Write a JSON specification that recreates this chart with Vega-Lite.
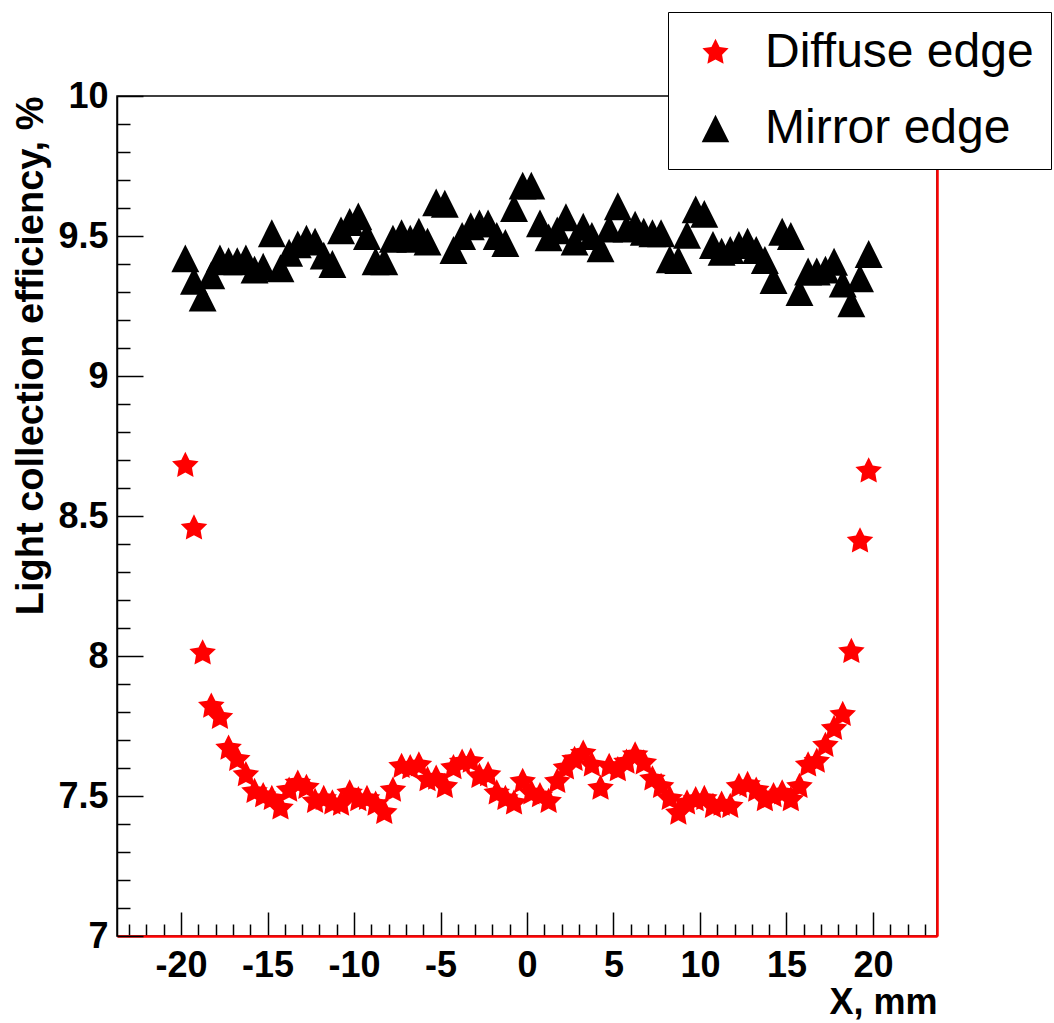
{
  "$schema": "https://vega.github.io/schema/vega-lite/v6.json",
  "width": 820,
  "height": 840,
  "autosize": {"type": "none"},
  "padding": {"left": 117, "top": 96, "right": 117, "bottom": 87},
  "background": "white",
  "config": {"view": {"stroke": "#000000", "strokeWidth": 1.5}, "font": "Liberation Sans"},
  "datasets": {
    "pts": [
      {"x": -19.75, "y": 9.42, "series": "Mirror edge"},
      {"x": -19.25, "y": 9.34, "series": "Mirror edge"},
      {"x": -18.75, "y": 9.28, "series": "Mirror edge"},
      {"x": -18.25, "y": 9.36, "series": "Mirror edge"},
      {"x": -17.75, "y": 9.42, "series": "Mirror edge"},
      {"x": -17.25, "y": 9.41, "series": "Mirror edge"},
      {"x": -16.75, "y": 9.41, "series": "Mirror edge"},
      {"x": -16.25, "y": 9.42, "series": "Mirror edge"},
      {"x": -15.75, "y": 9.38, "series": "Mirror edge"},
      {"x": -15.25, "y": 9.39, "series": "Mirror edge"},
      {"x": -14.75, "y": 9.51, "series": "Mirror edge"},
      {"x": -14.25, "y": 9.385, "series": "Mirror edge"},
      {"x": -13.75, "y": 9.44, "series": "Mirror edge"},
      {"x": -13.25, "y": 9.47, "series": "Mirror edge"},
      {"x": -12.75, "y": 9.49, "series": "Mirror edge"},
      {"x": -12.25, "y": 9.48, "series": "Mirror edge"},
      {"x": -11.75, "y": 9.43, "series": "Mirror edge"},
      {"x": -11.25, "y": 9.4, "series": "Mirror edge"},
      {"x": -10.75, "y": 9.52, "series": "Mirror edge"},
      {"x": -10.25, "y": 9.55, "series": "Mirror edge"},
      {"x": -9.75, "y": 9.57, "series": "Mirror edge"},
      {"x": -9.25, "y": 9.5, "series": "Mirror edge"},
      {"x": -8.75, "y": 9.41, "series": "Mirror edge"},
      {"x": -8.25, "y": 9.41, "series": "Mirror edge"},
      {"x": -7.75, "y": 9.49, "series": "Mirror edge"},
      {"x": -7.25, "y": 9.51, "series": "Mirror edge"},
      {"x": -6.75, "y": 9.49, "series": "Mirror edge"},
      {"x": -6.25, "y": 9.515, "series": "Mirror edge"},
      {"x": -5.75, "y": 9.48, "series": "Mirror edge"},
      {"x": -5.25, "y": 9.62, "series": "Mirror edge"},
      {"x": -4.75, "y": 9.615, "series": "Mirror edge"},
      {"x": -4.25, "y": 9.45, "series": "Mirror edge"},
      {"x": -3.75, "y": 9.5, "series": "Mirror edge"},
      {"x": -3.25, "y": 9.535, "series": "Mirror edge"},
      {"x": -2.75, "y": 9.545, "series": "Mirror edge"},
      {"x": -2.25, "y": 9.545, "series": "Mirror edge"},
      {"x": -1.75, "y": 9.5, "series": "Mirror edge"},
      {"x": -1.25, "y": 9.475, "series": "Mirror edge"},
      {"x": -0.75, "y": 9.6, "series": "Mirror edge"},
      {"x": -0.25, "y": 9.68, "series": "Mirror edge"},
      {"x": 0.25, "y": 9.68, "series": "Mirror edge"},
      {"x": 0.75, "y": 9.545, "series": "Mirror edge"},
      {"x": 1.25, "y": 9.495, "series": "Mirror edge"},
      {"x": 1.75, "y": 9.52, "series": "Mirror edge"},
      {"x": 2.25, "y": 9.567, "series": "Mirror edge"},
      {"x": 2.75, "y": 9.48, "series": "Mirror edge"},
      {"x": 3.25, "y": 9.533, "series": "Mirror edge"},
      {"x": 3.75, "y": 9.5, "series": "Mirror edge"},
      {"x": 4.25, "y": 9.456, "series": "Mirror edge"},
      {"x": 4.75, "y": 9.527, "series": "Mirror edge"},
      {"x": 5.25, "y": 9.606, "series": "Mirror edge"},
      {"x": 5.75, "y": 9.527, "series": "Mirror edge"},
      {"x": 6.25, "y": 9.54, "series": "Mirror edge"},
      {"x": 6.75, "y": 9.515, "series": "Mirror edge"},
      {"x": 7.25, "y": 9.51, "series": "Mirror edge"},
      {"x": 7.75, "y": 9.51, "series": "Mirror edge"},
      {"x": 8.25, "y": 9.417, "series": "Mirror edge"},
      {"x": 8.75, "y": 9.414, "series": "Mirror edge"},
      {"x": 9.25, "y": 9.504, "series": "Mirror edge"},
      {"x": 9.75, "y": 9.595, "series": "Mirror edge"},
      {"x": 10.25, "y": 9.579, "series": "Mirror edge"},
      {"x": 10.75, "y": 9.468, "series": "Mirror edge"},
      {"x": 11.25, "y": 9.444, "series": "Mirror edge"},
      {"x": 11.75, "y": 9.45, "series": "Mirror edge"},
      {"x": 12.25, "y": 9.468, "series": "Mirror edge"},
      {"x": 12.75, "y": 9.48, "series": "Mirror edge"},
      {"x": 13.25, "y": 9.45, "series": "Mirror edge"},
      {"x": 13.75, "y": 9.414, "series": "Mirror edge"},
      {"x": 14.25, "y": 9.343, "series": "Mirror edge"},
      {"x": 14.75, "y": 9.515, "series": "Mirror edge"},
      {"x": 15.25, "y": 9.5, "series": "Mirror edge"},
      {"x": 15.75, "y": 9.3, "series": "Mirror edge"},
      {"x": 16.25, "y": 9.373, "series": "Mirror edge"},
      {"x": 16.75, "y": 9.373, "series": "Mirror edge"},
      {"x": 17.25, "y": 9.38, "series": "Mirror edge"},
      {"x": 17.75, "y": 9.408, "series": "Mirror edge"},
      {"x": 18.25, "y": 9.33, "series": "Mirror edge"},
      {"x": 18.75, "y": 9.26, "series": "Mirror edge"},
      {"x": 19.25, "y": 9.349, "series": "Mirror edge"},
      {"x": 19.75, "y": 9.436, "series": "Mirror edge"},
      {"x": -19.75, "y": 8.68, "series": "Diffuse edge"},
      {"x": -19.25, "y": 8.456, "series": "Diffuse edge"},
      {"x": -18.75, "y": 8.01, "series": "Diffuse edge"},
      {"x": -18.25, "y": 7.82, "series": "Diffuse edge"},
      {"x": -17.75, "y": 7.78, "series": "Diffuse edge"},
      {"x": -17.25, "y": 7.67, "series": "Diffuse edge"},
      {"x": -16.75, "y": 7.63, "series": "Diffuse edge"},
      {"x": -16.25, "y": 7.575, "series": "Diffuse edge"},
      {"x": -15.75, "y": 7.515, "series": "Diffuse edge"},
      {"x": -15.25, "y": 7.5, "series": "Diffuse edge"},
      {"x": -14.75, "y": 7.49, "series": "Diffuse edge"},
      {"x": -14.25, "y": 7.456, "series": "Diffuse edge"},
      {"x": -13.75, "y": 7.52, "series": "Diffuse edge"},
      {"x": -13.25, "y": 7.545, "series": "Diffuse edge"},
      {"x": -12.75, "y": 7.53, "series": "Diffuse edge"},
      {"x": -12.25, "y": 7.48, "series": "Diffuse edge"},
      {"x": -11.75, "y": 7.49, "series": "Diffuse edge"},
      {"x": -11.25, "y": 7.474, "series": "Diffuse edge"},
      {"x": -10.75, "y": 7.47, "series": "Diffuse edge"},
      {"x": -10.25, "y": 7.51, "series": "Diffuse edge"},
      {"x": -9.75, "y": 7.486, "series": "Diffuse edge"},
      {"x": -9.25, "y": 7.49, "series": "Diffuse edge"},
      {"x": -8.75, "y": 7.47, "series": "Diffuse edge"},
      {"x": -8.25, "y": 7.44, "series": "Diffuse edge"},
      {"x": -7.75, "y": 7.52, "series": "Diffuse edge"},
      {"x": -7.25, "y": 7.605, "series": "Diffuse edge"},
      {"x": -6.75, "y": 7.6, "series": "Diffuse edge"},
      {"x": -6.25, "y": 7.61, "series": "Diffuse edge"},
      {"x": -5.75, "y": 7.557, "series": "Diffuse edge"},
      {"x": -5.25, "y": 7.563, "series": "Diffuse edge"},
      {"x": -4.75, "y": 7.533, "series": "Diffuse edge"},
      {"x": -4.25, "y": 7.6, "series": "Diffuse edge"},
      {"x": -3.75, "y": 7.62, "series": "Diffuse edge"},
      {"x": -3.25, "y": 7.623, "series": "Diffuse edge"},
      {"x": -2.75, "y": 7.569, "series": "Diffuse edge"},
      {"x": -2.25, "y": 7.575, "series": "Diffuse edge"},
      {"x": -1.75, "y": 7.51, "series": "Diffuse edge"},
      {"x": -1.25, "y": 7.49, "series": "Diffuse edge"},
      {"x": -0.75, "y": 7.474, "series": "Diffuse edge"},
      {"x": -0.25, "y": 7.551, "series": "Diffuse edge"},
      {"x": 0.25, "y": 7.51, "series": "Diffuse edge"},
      {"x": 0.75, "y": 7.5, "series": "Diffuse edge"},
      {"x": 1.25, "y": 7.48, "series": "Diffuse edge"},
      {"x": 1.75, "y": 7.551, "series": "Diffuse edge"},
      {"x": 2.25, "y": 7.599, "series": "Diffuse edge"},
      {"x": 2.75, "y": 7.63, "series": "Diffuse edge"},
      {"x": 3.25, "y": 7.652, "series": "Diffuse edge"},
      {"x": 3.75, "y": 7.61, "series": "Diffuse edge"},
      {"x": 4.25, "y": 7.527, "series": "Diffuse edge"},
      {"x": 4.75, "y": 7.605, "series": "Diffuse edge"},
      {"x": 5.25, "y": 7.593, "series": "Diffuse edge"},
      {"x": 5.75, "y": 7.62, "series": "Diffuse edge"},
      {"x": 6.25, "y": 7.646, "series": "Diffuse edge"},
      {"x": 6.75, "y": 7.617, "series": "Diffuse edge"},
      {"x": 7.25, "y": 7.56, "series": "Diffuse edge"},
      {"x": 7.75, "y": 7.533, "series": "Diffuse edge"},
      {"x": 8.25, "y": 7.49, "series": "Diffuse edge"},
      {"x": 8.75, "y": 7.438, "series": "Diffuse edge"},
      {"x": 9.25, "y": 7.474, "series": "Diffuse edge"},
      {"x": 9.75, "y": 7.486, "series": "Diffuse edge"},
      {"x": 10.25, "y": 7.49, "series": "Diffuse edge"},
      {"x": 10.75, "y": 7.462, "series": "Diffuse edge"},
      {"x": 11.25, "y": 7.47, "series": "Diffuse edge"},
      {"x": 11.75, "y": 7.462, "series": "Diffuse edge"},
      {"x": 12.25, "y": 7.533, "series": "Diffuse edge"},
      {"x": 12.75, "y": 7.54, "series": "Diffuse edge"},
      {"x": 13.25, "y": 7.52, "series": "Diffuse edge"},
      {"x": 13.75, "y": 7.486, "series": "Diffuse edge"},
      {"x": 14.25, "y": 7.5, "series": "Diffuse edge"},
      {"x": 14.75, "y": 7.51, "series": "Diffuse edge"},
      {"x": 15.25, "y": 7.486, "series": "Diffuse edge"},
      {"x": 15.75, "y": 7.533, "series": "Diffuse edge"},
      {"x": 16.25, "y": 7.61, "series": "Diffuse edge"},
      {"x": 16.75, "y": 7.623, "series": "Diffuse edge"},
      {"x": 17.25, "y": 7.68, "series": "Diffuse edge"},
      {"x": 17.75, "y": 7.74, "series": "Diffuse edge"},
      {"x": 18.25, "y": 7.79, "series": "Diffuse edge"},
      {"x": 18.75, "y": 8.015, "series": "Diffuse edge"},
      {"x": 19.25, "y": 8.41, "series": "Diffuse edge"},
      {"x": 19.75, "y": 8.66, "series": "Diffuse edge"}
    ]
  },
  "data": {"name": "pts"},
  "layer": [
    {
      "mark": {"type": "point", "filled": true, "size": 780, "opacity": 1, "strokeWidth": 0},
      "encoding": {
        "x": {
          "field": "x", "type": "quantitative",
          "scale": {"domain": [-23.7, 23.7], "nice": false, "zero": false},
          "axis": {
            "values": [-23,-22,-21,-20,-19,-18,-17,-16,-15,-14,-13,-12,-11,-10,-9,-8,-7,-6,-5,-4,-3,-2,-1,0,1,2,3,4,5,6,7,8,9,10,11,12,13,14,15,16,17,18,19,20,21,22,23],
            "labelExpr": "datum.value % 5 == 0 ? '' + datum.value : ''",
            "tickSize": {"condition": {"test": "datum.value % 5 == 0", "value": -24}, "value": -12},
            "tickColor": "#000000", "tickWidth": 1.5,
            "labelPadding": 36,
            "labelFontSize": 36, "labelFontWeight": "bold", "labelColor": "#000000",
            "labelFont": "Liberation Sans",
            "labelFlush": false, "labelOverlap": false, "labelBound": false,
            "domainColor": "#ff0000", "domainWidth": 2.5,
            "grid": false,
            "title": "X, mm", "titleAnchor": "end", "titleFontSize": 36, "titleFontWeight": "bold",
            "titleColor": "#000000", "titleFont": "Liberation Sans", "titlePadding": -10
          }
        },
        "y": {
          "field": "y", "type": "quantitative",
          "scale": {"domain": [7, 10], "nice": false, "zero": false},
          "axis": {
            "values": [7,7.1,7.2,7.3,7.4,7.5,7.6,7.7,7.8,7.9,8,8.1,8.2,8.3,8.4,8.5,8.6,8.7,8.8,8.9,9,9.1,9.2,9.3,9.4,9.5,9.6,9.7,9.8,9.9,10],
            "labelExpr": "abs(round(datum.value * 10)) % 5 == 0 ? format(datum.value, '~g') : ''",
            "tickSize": {"condition": {"test": "abs(round(datum.value * 10)) % 5 == 0", "value": -26}, "value": -13},
            "tickColor": "#000000", "tickWidth": 1.5,
            "labelPadding": 35,
            "labelFontSize": 36, "labelFontWeight": "bold", "labelColor": "#000000",
            "labelFont": "Liberation Sans",
            "labelFlush": false, "labelOverlap": false, "labelBound": false,
            "domainColor": "#000000", "domainWidth": 1.5,
            "grid": false,
            "title": "Light collection efficiency, %", "titleAnchor": "end", "titleFontSize": 38, "titleFontWeight": "bold",
            "titleColor": "#000000", "titleFont": "Liberation Sans", "titlePadding": 7
          }
        },
        "color": {
          "field": "series", "type": "nominal",
          "scale": {"domain": ["Diffuse edge", "Mirror edge"], "range": ["#ff0000", "#000000"]},
          "legend": {
            "title": null, "orient": "none", "legendX": 551, "legendY": -84,
            "padding": 16.5, "strokeColor": "#000000", "fillColor": "#ffffff",
            "labelFontSize": 48, "labelFont": "Liberation Sans", "labelColor": "#000000", "labelLimit": 500,
            "symbolSize": 760, "symbolOffset": 7, "labelOffset": 25.5, "rowPadding": 28,
            "symbolStrokeWidth": 0
          }
        },
        "shape": {
          "field": "series", "type": "nominal",
          "scale": {"domain": ["Diffuse edge", "Mirror edge"], "range": ["M0,-1L0.294,-0.405L0.951,-0.309L0.476,0.155L0.588,0.809L0,0.5L-0.588,0.809L-0.476,0.155L-0.951,-0.309L-0.294,-0.405Z", "M0,-1L1,1L-1,1Z"]},
          "legend": {
            "title": null, "orient": "none", "legendX": 551, "legendY": -84,
            "padding": 16.5, "strokeColor": "#000000", "fillColor": "#ffffff",
            "labelFontSize": 48, "labelFont": "Liberation Sans", "labelColor": "#000000", "labelLimit": 500,
            "symbolSize": 760, "symbolOffset": 7, "labelOffset": 25.5, "rowPadding": 28,
            "symbolStrokeWidth": 0
          }
        }
      }
    },
    {
      "mark": {"type": "point", "opacity": 0},
      "encoding": {
        "y": {
          "field": "y", "type": "quantitative",
          "axis": {"orient": "right", "labels": false, "ticks": false, "title": null, "grid": false, "domainColor": "#ff0000", "domainWidth": 2.5}
        }
      }
    }
  ],
  "resolve": {"axis": {"y": "independent"}}
}
